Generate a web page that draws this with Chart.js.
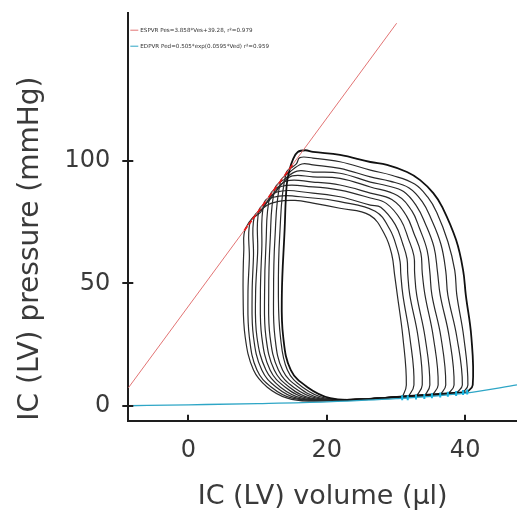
<!DOCTYPE html>
<html>
<head>
<meta charset="utf-8">
<script src="https://cdn.jsdelivr.net/npm/chart.js@4.4.1/dist/chart.umd.min.js"></script>
<style>
  html, body { margin: 0; padding: 0; background: #fff; overflow: hidden; }
  canvas { display: block; }
</style>
</head>
<body>
<canvas id="chart-pv" width="517" height="515"></canvas>
<script>
// PV loops during occlusion, outermost first: [volume (µl), pressure (mmHg)]
const loop1 = [[40.3,5.6],[41.1,8.5],[40.9,28.1],[40.1,45.2],[39.7,55.5],[38.7,67.7],[36.7,81.2],[35.4,86.9],[33.5,92.2],[31.6,95.5],[28.7,98.4],[26.3,99.6],[21.9,102.5],[18.0,103.7],[16.9,104.4],[15.8,103.7],[15.1,100.6],[14.6,96.3],[14.2,90.2],[13.9,71.8],[13.5,45.2],[13.7,28.1],[14.8,14.6],[17.2,7.6],[20.5,3.1],[24.8,2.6],[30.6,3.7],[36.4,4.9],[40.3,5.6]];
const loop2 = [[39.7,5.4],[40.4,8.5],[39.8,28.1],[38.8,45.2],[38.5,55.3],[37.5,67.1],[35.9,79.0],[34.6,85.2],[32.7,90.6],[29.5,94.1],[26.3,96.3],[21.9,99.7],[18.0,101.2],[16.1,101.4],[15.6,98.8],[14.1,94.9],[13.2,70.0],[13.0,45.2],[13.3,28.1],[14.3,14.6],[16.5,7.6],[19.8,3.1],[24.1,2.6],[29.9,3.5],[35.7,4.7],[39.7,5.4]];
const loop3 = [[38.7,5.0],[39.6,8.5],[38.8,28.1],[37.5,45.2],[37.2,55.0],[36.5,66.0],[35.0,76.9],[33.8,83.4],[31.9,89.0],[29.1,91.8],[26.3,93.5],[21.9,97.0],[18.0,98.4],[16.4,98.8],[14.7,95.6],[13.3,91.5],[12.5,68.4],[12.3,45.2],[12.5,28.1],[13.6,14.6],[15.9,7.6],[19.1,3.1],[23.7,2.6],[29.1,3.4],[34.6,4.5],[38.7,5.0]];
const loop4 = [[37.5,4.7],[38.4,8.5],[37.7,28.1],[36.4,45.2],[36.0,54.8],[35.5,64.8],[34.2,74.7],[33.0,81.5],[31.1,87.5],[28.7,89.9],[26.3,91.4],[21.9,95.0],[18.0,95.5],[15.7,95.9],[14.0,92.8],[12.5,88.8],[11.8,67.0],[11.6,45.2],[11.8,28.1],[13.0,14.6],[15.2,7.6],[18.5,3.1],[23.1,2.5],[28.4,3.3],[33.5,4.2],[37.5,4.7]];
const loop5 = [[36.4,4.4],[37.2,8.5],[36.5,28.1],[35.2,45.2],[34.9,54.6],[34.5,63.6],[33.4,72.5],[32.3,79.6],[30.2,85.9],[26.3,89.4],[21.9,92.9],[18.0,93.5],[15.0,93.9],[13.3,90.1],[11.8,86.0],[11.2,65.6],[11.0,45.2],[11.2,28.1],[12.4,14.6],[14.6,7.6],[17.7,3.1],[22.5,2.4],[27.7,3.1],[32.3,4.0],[36.4,4.4]];
const loop6 = [[35.2,4.1],[36.1,8.5],[35.4,28.1],[34.2,45.2],[33.8,54.4],[33.6,62.4],[32.6,70.4],[31.5,77.7],[29.4,84.3],[26.3,86.9],[21.9,90.2],[18.0,91.4],[14.1,91.8],[12.4,86.7],[10.9,82.6],[10.6,63.9],[10.4,45.2],[10.6,28.1],[11.8,14.6],[14.0,7.6],[17.1,3.1],[21.9,2.4],[27.0,3.0],[31.3,3.8],[35.2,4.1]];
const loop7 = [[34.1,3.8],[34.9,8.5],[34.2,28.1],[33.0,45.2],[32.7,54.2],[32.6,61.2],[31.8,68.2],[30.7,75.9],[28.6,82.7],[26.3,84.9],[21.9,88.1],[18.0,89.4],[13.4,89.6],[11.7,83.9],[10.2,79.9],[10.0,62.5],[9.7,45.2],[9.9,28.1],[11.2,14.6],[13.3,7.6],[16.4,3.1],[21.3,2.3],[26.3,2.9],[30.3,3.6],[34.1,3.8]];
const loop8 = [[32.9,3.6],[33.8,8.5],[33.2,28.1],[32.0,45.2],[31.7,54.0],[31.6,60.0],[31.0,66.0],[29.9,74.0],[27.8,81.1],[26.3,82.0],[21.9,85.4],[18.0,86.9],[12.7,87.3],[10.9,81.2],[9.5,77.1],[9.4,61.2],[9.2,45.2],[9.4,28.1],[10.6,14.6],[12.7,7.6],[15.7,3.1],[20.5,2.2],[25.5,2.8],[29.4,3.4],[32.9,3.6]];
const loop9 = [[31.7,3.3],[32.6,8.5],[32.0,28.1],[31.0,45.2],[30.7,53.8],[30.6,58.8],[30.2,63.9],[29.1,72.1],[27.0,79.5],[21.9,83.4],[18.0,84.9],[12.1,85.1],[10.4,79.0],[8.9,74.9],[8.8,60.0],[8.6,45.2],[8.8,28.1],[9.9,14.6],[12.0,7.6],[15.0,3.1],[19.8,2.1],[24.8,2.7],[28.9,3.3],[31.7,3.3]];
const loop10 = [[30.9,3.3],[31.5,8.5],[31.0,28.1],[30.2,45.2],[29.8,53.6],[29.4,61.7],[28.4,69.8],[26.2,77.9],[21.9,80.7],[18.0,82.8],[15.4,83.9],[13.0,83.5],[11.1,81.4],[8.3,72.7],[8.0,63.6],[7.9,45.2],[8.2,28.1],[9.4,14.6],[11.4,7.6],[14.3,3.1],[17.6,1.9],[23.4,2.5],[28.4,3.2],[30.9,3.3]];
const loops = [loop1, loop2, loop3, loop4, loop5, loop6, loop7, loop8, loop9, loop10];

// end-systolic / end-diastolic points
const esVol = [14.8, 14.1, 13.3, 12.5, 11.8, 10.9, 10.2, 9.5, 8.9, 8.3];
const esPres = [97.5, 94.8, 91.7, 88.7, 86.0, 82.5, 79.8, 77.1, 74.8, 72.5];
const edVol = [40.3, 39.7, 38.7, 37.5, 36.4, 35.2, 34.1, 32.9, 31.7, 30.9];
const edPres = [5.6, 5.4, 5.0, 4.7, 4.4, 4.1, 3.8, 3.6, 3.3, 3.3];

// fitted relations
const espvrVol = [-8.7, 30.1];
const espvrPres = [7.3, 156.3];
const edpvrVol = [-8.7, 0, 10, 20, 30, 40, 47.5];
const edpvrPres = [0.0, 0.4, 0.9, 1.6, 2.9, 5.2, 8.5];

const legendLabels = ['ESPVR Pes=3.858*Ves+39.28, r²=0.979', 'EDPVR Ped=0.505*exp(0.0595*Ved) r²=0.959'];
const xTicks = [0, 20, 40];
const yTicks = [0, 50, 100];

const RED = '#e27474';
const CYAN = '#2ea6c6';
const AXIS = '#1e1e1e';
const TEXT = '#3a3a3a';
const FONT = '"DejaVu Sans", Verdana, sans-serif';

const toPts = (xs, ys) => xs.map((x, i) => ({ x: x, y: ys[i] }));

// tick marks: y ticks cross the axis, x ticks point inwards
const tickMarks = {
  id: 'tickMarks',
  afterDraw(chart) {
    const { ctx, chartArea, scales } = chart;
    ctx.save();
    ctx.strokeStyle = AXIS;
    ctx.lineWidth = 2;
    ctx.beginPath();
    yTicks.forEach((v) => {
      const y = Math.round(scales.y.getPixelForValue(v));
      ctx.moveTo(chartArea.left - 6, y);
      ctx.lineTo(chartArea.left + 5, y);
    });
    xTicks.forEach((v) => {
      const x = Math.round(scales.x.getPixelForValue(v));
      ctx.moveTo(x, chartArea.bottom);
      ctx.lineTo(x, chartArea.bottom - 6);
    });
    ctx.stroke();
    ctx.restore();
  },
};

// small legend in the upper left corner of the plot
const fitLegend = {
  id: 'fitLegend',
  afterDraw(chart) {
    const { ctx, chartArea } = chart;
    const colors = [RED, CYAN];
    ctx.save();
    ctx.font = '5.6px ' + FONT;
    ctx.textBaseline = 'middle';
    legendLabels.forEach((txt, i) => {
      const y = chartArea.top + 17.5 + i * 16;
      ctx.strokeStyle = colors[i];
      ctx.lineWidth = 1;
      ctx.beginPath();
      ctx.moveTo(chartArea.left + 2, y);
      ctx.lineTo(chartArea.left + 10, y);
      ctx.stroke();
      ctx.fillStyle = '#333';
      ctx.fillText(txt, chartArea.left + 12, y);
    });
    ctx.restore();
  },
};

const datasets = [
  {
    label: 'ES',
    data: toPts(esVol, esPres),
    showLine: false,
    pointStyle: 'line',
    rotation: -54,
    pointRadius: 2.5,
    borderColor: '#e41a1a',
    borderWidth: 1.8,
  },
  {
    label: 'ED',
    data: toPts(edVol, edPres),
    showLine: false,
    pointStyle: 'line',
    rotation: 90,
    pointRadius: 2.5,
    borderColor: '#18b4e0',
    borderWidth: 2,
  },
  {
    label: 'ESPVR',
    data: toPts(espvrVol, espvrPres),
    showLine: true,
    borderColor: RED,
    borderWidth: 1,
    pointRadius: 0,
  },
  {
    label: 'EDPVR',
    data: toPts(edpvrVol, edpvrPres),
    showLine: true,
    borderColor: CYAN,
    borderWidth: 1.3,
    pointRadius: 0,
    cubicInterpolationMode: 'monotone',
  },
];

loops.forEach((lp, i) => {
  datasets.push({
    label: 'Loop ' + (i + 1),
    data: lp.map((p) => ({ x: p[0], y: p[1] })),
    showLine: true,
    borderColor: i === 0 ? '#111' : '#2a2a2a',
    borderWidth: i === 0 ? 1.8 : 1.2,
    pointRadius: 0,
    tension: 0.4,
  });
});

new Chart(document.getElementById('chart-pv'), {
  type: 'scatter',
  data: { datasets: datasets },
  options: {
    responsive: false,
    animation: false,
    devicePixelRatio: 1,
    layout: { autoPadding: false, padding: { top: 12.7, right: 0, bottom: 0, left: 0 } },
    plugins: {
      legend: { display: false },
      tooltip: { enabled: false },
    },
    scales: {
      x: {
        type: 'linear',
        min: -8.7,
        max: 47.5,
        afterBuildTicks: (axis) => { axis.ticks = xTicks.map((v) => ({ value: v })); },
        afterFit: (scale) => {
          scale.height = 94.3;
          scale.paddingLeft = 0;
          scale.paddingRight = 0;
        },
        grid: { display: false, drawTicks: false },
        border: { display: true, color: AXIS, width: 2 },
        ticks: { color: TEXT, font: { family: FONT, size: 24 }, padding: 16, maxRotation: 0 },
        title: {
          display: true,
          text: 'IC (LV) volume (µl)',
          color: TEXT,
          font: { family: FONT, size: 27 },
          padding: { top: 0, bottom: 2 },
        },
      },
      y: {
        type: 'linear',
        min: -6.1,
        max: 160.6,
        afterBuildTicks: (axis) => { axis.ticks = yTicks.map((v) => ({ value: v })); },
        afterFit: (scale) => {
          scale.width = 128.3;
          scale.paddingTop = 0;
          scale.paddingBottom = 0;
        },
        grid: { display: false, drawTicks: false },
        border: { display: true, color: AXIS, width: 2 },
        ticks: { color: TEXT, font: { family: FONT, size: 24 }, padding: 18 },
        title: {
          display: true,
          text: 'IC (LV) pressure (mmHg)',
          color: TEXT,
          align: 'start',
          font: { family: FONT, size: 28 },
          padding: { top: 14, bottom: 0 },
        },
      },
    },
  },
  plugins: [tickMarks, fitLegend],
});
</script>
</body>
</html>
